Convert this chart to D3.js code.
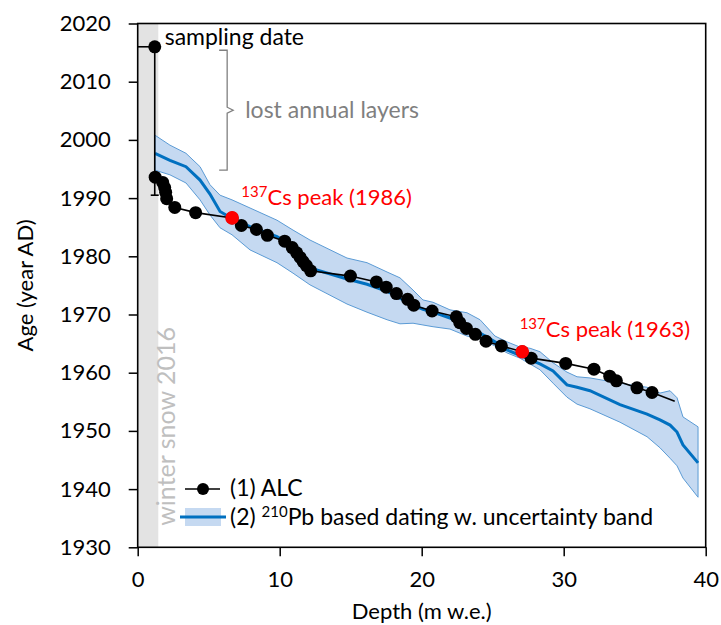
<!DOCTYPE html>
<html><head><meta charset="utf-8">
<script src="https://cdn.jsdelivr.net/npm/d3@7"></script>
<style>
body{margin:0;background:#fff}
svg{display:block}
text{font-family:Lato,"Open Sans",sans-serif}
</style>
</head><body>
<svg id="c" width="721" height="625"></svg>
<script>
// ---- data ----
const alcDepth = [1.23,1.76,1.90,1.97,2.04,2.61,4.08,6.65,7.30,8.36,9.13,10.35,10.88,11.20,11.44,11.65,11.88,12.18,14.98,16.81,17.50,18.22,19.01,19.44,20.73,22.44,22.68,23.15,23.78,24.53,25.61,27.08,27.71,30.14,32.13,33.24,33.71,35.16,36.22];
const alcAge   = [1993.6,1992.7,1991.8,1991.0,1989.9,1988.4,1987.5,1986.6,1985.3,1984.6,1983.6,1982.6,1981.5,1980.6,1979.8,1979.1,1978.4,1977.5,1976.6,1975.6,1974.7,1973.6,1972.6,1971.6,1970.6,1969.6,1968.6,1967.6,1966.6,1965.4,1964.6,1963.6,1962.5,1961.6,1960.6,1959.4,1958.6,1957.4,1956.6];
const alcTailDepth = [36.22,37.82];
const alcTailAge   = [1956.6,1955.1];
const samplingDepth = [0,1.2];
const samplingAge   = [2016,2016];
const lostDepth = [1.2,1.2];
const lostAge   = [2016,1990.5];
const csDepth = [6.65,27.08];
const csAge   = [1986.6,1963.6];
const csLabels = ["(1986)","(1963)"];

const pbDepth  = [1.22,2.27,3.40,4.39,5.09,5.80,6.64,7.91,9.81,10.94,12.13,14.74,16.15,17.56,18.47,19.39,20.09,20.80,21.99,23.19,24.11,25.16,26.01,26.92,27.63,28.33,29.25,30.23,30.94,31.85,33.96,35.87,36.78,37.49,37.98,38.40,39.46];
const pbAge    = [1997.7,1996.5,1995.4,1993.1,1990.7,1987.7,1986.5,1985.1,1983.4,1981.7,1978.0,1976.1,1975.2,1974.0,1972.8,1971.6,1970.9,1970.4,1969.4,1967.7,1966.8,1965.3,1963.9,1963.0,1962.2,1961.5,1960.3,1957.9,1957.5,1956.9,1954.5,1952.9,1951.9,1951.0,1949.8,1947.6,1944.5];
const pbUpper  = [2000.8,1999.1,1997.7,1995.4,1992.3,1990.5,1989.7,1988.3,1986.2,1984.5,1982.8,1979.7,1978.9,1977.3,1976.3,1974.2,1972.5,1972.1,1970.8,1970.3,1969.1,1966.3,1965.3,1964.4,1964.2,1963.6,1961.7,1960.1,1959.3,1959.1,1958.2,1957.5,1956.5,1956.9,1955.7,1952.4,1950.7];
const pbLower  = [1994.8,1994.0,1992.6,1989.7,1987.1,1984.9,1983.7,1981.1,1978.9,1977.1,1975.1,1971.8,1970.4,1969.1,1968.4,1968.5,1968.2,1967.9,1967.5,1966.3,1965.8,1964.6,1963.4,1962.5,1961.5,1960.5,1958.2,1955.8,1954.6,1953.8,1951.5,1949.0,1947.1,1945.3,1944.0,1941.9,1938.6];

const xMajor = [0,10,20,30,40];
const xMinor = d3.range(0,41,2);
const yMajor = [1930,1940,1950,1960,1970,1980,1990,2000,2010,2020];
const yMinor = d3.range(1930,2021,5);
const winterSnowDepth = [0,1.45];
const bracketAge = [2015.4,2005.1,1994.8];

// ---- layout ----
const W=721,H=625, m={l:137.7,t:23.5,r:15.3,b:77.7};
const svg=d3.select("#c");
const x=d3.scaleLinear().domain([0,40]).range([m.l,W-m.r]);
const y=d3.scaleLinear().domain([1930,2020]).range([H-m.b,m.t]);
const FS=23, TFS=22, SUP=15;

// winter snow band
svg.append("rect").attr("x",x(winterSnowDepth[0])).attr("y",y(2020))
  .attr("width",x(winterSnowDepth[1])-x(winterSnowDepth[0])).attr("height",y(1930)-y(2020))
  .attr("fill","#e3e3e3");
svg.append("text").attr("transform",`translate(${x(2.6)},${y(1933.7)}) rotate(-90)`)
  .attr("fill","#bfbfbf").attr("font-size",25).text("winter snow 2016");

// Pb band
const pb = pbDepth.map((d,i)=>({d,a:pbAge[i],u:pbUpper[i],l:pbLower[i]}));
svg.append("path").datum(pb)
  .attr("d",d3.area().x(p=>x(p.d)).y0(p=>y(p.l)).y1(p=>y(p.u)))
  .attr("fill","#c5d9f1").attr("stroke","#5b9bd5").attr("stroke-width",1);
svg.append("path").datum(pb)
  .attr("d",d3.line().x(p=>x(p.d)).y(p=>y(p.a)))
  .attr("fill","none").attr("stroke","#0070c0").attr("stroke-width",3);

// ALC
const line=d3.line().x(p=>x(p[0])).y(p=>y(p[1]));
const zip=(a,b)=>a.map((v,i)=>[v,b[i]]);
svg.append("path").attr("d",line(zip(samplingDepth,samplingAge))).attr("fill","none").attr("stroke","#000").attr("stroke-width",1.6);
svg.append("path").attr("d",line(zip(lostDepth,lostAge))).attr("fill","none").attr("stroke","#000").attr("stroke-width",1.6);
svg.append("line").attr("x1",x(lostDepth[1])-4).attr("x2",x(lostDepth[1])+4)
  .attr("y1",y(lostAge[1])).attr("y2",y(lostAge[1])).attr("stroke","#000").attr("stroke-width",1.6);
svg.append("path").attr("d",line(zip(alcDepth,alcAge))).attr("fill","none").attr("stroke","#000").attr("stroke-width",1.6);
svg.append("path").attr("d",line(zip(alcTailDepth,alcTailAge))).attr("fill","none").attr("stroke","#000").attr("stroke-width",1.6);
svg.append("g").selectAll("circle").data(zip(alcDepth,alcAge)).join("circle")
  .attr("cx",p=>x(p[0])).attr("cy",p=>y(p[1])).attr("r",6.5).attr("fill","#000");
svg.append("circle").attr("cx",x(samplingDepth[1])).attr("cy",y(samplingAge[1])).attr("r",6.5).attr("fill","#000");
svg.append("g").selectAll("circle").data(zip(csDepth,csAge)).join("circle")
  .attr("cx",p=>x(p[0])).attr("cy",p=>y(p[1])).attr("r",6.8).attr("fill","#ff0000");

// axes
const ax=svg.append("g").attr("transform",`translate(0,${y(1930)})`);
ax.call(d3.axisBottom(x).tickValues(xMinor).tickSize(6).tickFormat(""));
ax.call(d3.axisBottom(x).tickValues(xMajor).tickSize(9).tickPadding(15).tickFormat(d3.format("d")));
const ay=svg.append("g").attr("transform",`translate(${x(0)},0)`);
ay.call(d3.axisLeft(y).tickValues(yMinor).tickSize(6).tickFormat(""));
ay.call(d3.axisLeft(y).tickValues(yMajor).tickSize(9).tickPadding(18).tickFormat(d3.format("d")));
svg.selectAll(".domain").remove();
svg.selectAll(".tick line").attr("stroke","#000").attr("stroke-width",1.5);
svg.selectAll(".tick text").attr("font-size",TFS).attr("fill","#000").attr("font-family","Lato");
// frame
svg.append("rect").attr("x",x(0)).attr("y",y(2020)).attr("width",x(40)-x(0)).attr("height",y(1930)-y(2020))
  .attr("fill","none").attr("stroke","#000").attr("stroke-width",1.6);

// axis titles
svg.append("text").attr("x",(x(0)+x(40))/2).attr("y",619).attr("text-anchor","middle").attr("font-size",TFS).text("Depth (m w.e.)");
svg.append("text").attr("transform",`translate(33,${(y(1930)+y(2020))/2}) rotate(-90)`).attr("text-anchor","middle").attr("font-size",TFS).text("Age (year AD)");

// annotations
svg.append("text").attr("x",x(1.9)).attr("y",y(2016)-2).attr("font-size",FS).text("sampling date");
const bx=x(6.3), bw=8;
svg.append("path").attr("d",`M${bx-bw},${y(bracketAge[0])} H${bx} V${y(bracketAge[1])-3} L${bx+6},${y(bracketAge[1])} L${bx},${y(bracketAge[1])+3} V${y(bracketAge[2])} H${bx-bw}`)
  .attr("fill","none").attr("stroke","#7f7f7f").attr("stroke-width",1.3);
svg.append("text").attr("x",bx+18).attr("y",y(bracketAge[1])+8).attr("fill","#7f7f7f").attr("font-size",FS).text("lost annual layers");

const csLab=[{d:7.3,a:1988.9},{d:26.9,a:1966.1}];
csLab.forEach((p,i)=>{
  const t=svg.append("text").attr("x",x(p.d)).attr("y",y(p.a)).attr("fill","#ff0000").attr("font-size",22);
  t.append("tspan").attr("font-size",SUP).attr("dy",-8).text("137");
  t.append("tspan").attr("dy",8).text("Cs peak "+csLabels[i]);
});

// legend
const lg=svg.append("g");
lg.append("line").attr("x1",185).attr("x2",220).attr("y1",489).attr("y2",489).attr("stroke","#000").attr("stroke-width",1.6);
lg.append("circle").attr("cx",203).attr("cy",489).attr("r",6).attr("fill","#000");
lg.append("text").attr("x",230).attr("y",496).attr("font-size",FS).text("(1) ALC");
lg.append("rect").attr("x",185).attr("y",508).attr("width",36).attr("height",18).attr("fill","#c5d9f1");
lg.append("line").attr("x1",180).attr("x2",226).attr("y1",517).attr("y2",517).attr("stroke","#0070c0").attr("stroke-width",3);
const t2=lg.append("text").attr("x",230).attr("y",524.5).attr("font-size",FS);
t2.append("tspan").text("(2) ");
t2.append("tspan").attr("font-size",SUP).attr("dy",-8).text("210");
t2.append("tspan").attr("dy",8).text("Pb based dating w. uncertainty band");
</script>
</body></html>
